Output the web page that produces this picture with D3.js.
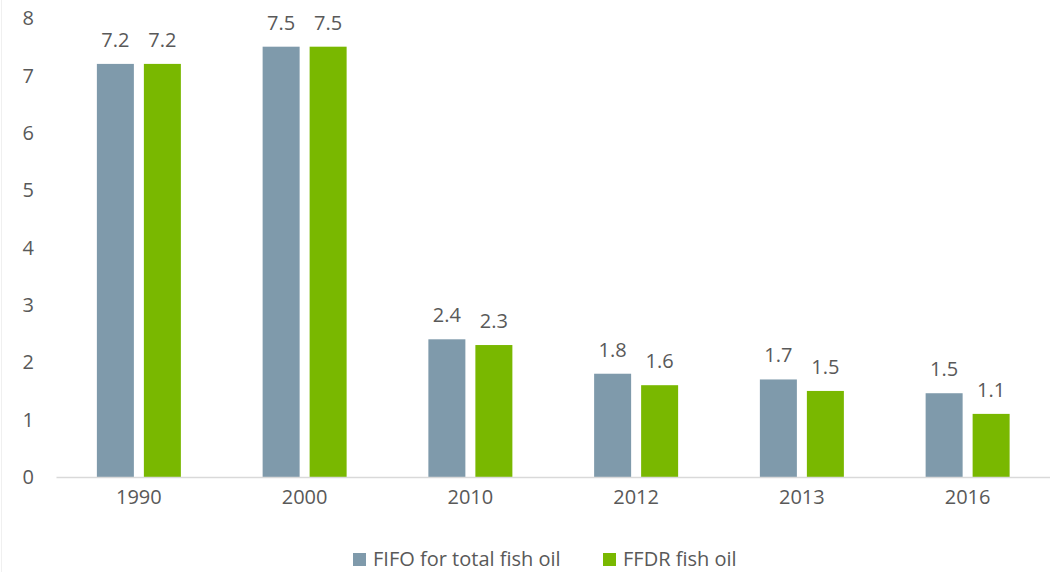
<!DOCTYPE html>
<html>
<head>
<meta charset="utf-8">
<script src="https://cdn.jsdelivr.net/npm/d3@7"></script>
<style>
  body { margin: 0; background: #fff; }
  text { font-family: "Open Sans", sans-serif; fill: #595959; }
</style>
</head>
<body>
<div id="chart"></div>
<script>
// data
var years = ["1990", "2000", "2010", "2012", "2013", "2016"];
var seriesNames = ["FIFO for total fish oil", "FFDR fish oil"];
var fifo = [7.2, 7.5, 2.4, 1.8, 1.7, 1.46];
var ffdr = [7.2, 7.5, 2.3, 1.6, 1.5, 1.1];
var yTicks = [0, 1, 2, 3, 4, 5, 6, 7, 8];

var colors = ["#7f9aab", "#79b800"];

var W = 1053, H = 572;

var svg = d3.select("#chart")
  .append("svg")
    .attr("width", W)
    .attr("height", H);

// faint frame edge on the left
svg.append("line")
  .attr("x1", 1.5).attr("x2", 1.5)
  .attr("y1", 0).attr("y2", H)
  .attr("stroke", "#f0f0f0")
  .attr("stroke-width", 1);

var x0 = d3.scaleBand()
  .domain(years)
  .range([56, 1050.5]);

var x1 = d3.scaleBand()
  .domain(seriesNames)
  .range([-42, 42])
  .paddingInner(10 / 47);

var y = d3.scaleLinear()
  .domain([0, 8])
  .range([477, 18]);

var rows = years.map(function(yr, i) {
  return { year: yr, values: [
    { name: seriesNames[0], value: fifo[i] },
    { name: seriesNames[1], value: ffdr[i] }
  ]};
});

// y tick labels (no axis line)
svg.selectAll(".ytick")
  .data(yTicks)
  .enter()
  .append("text")
    .attr("class", "ytick")
    .attr("x", 34)
    .attr("y", function(d) { return y(d); })
    .attr("dy", "0.36em")
    .attr("text-anchor", "end")
    .style("font-size", "20px")
    .text(function(d) { return d; });

// bars
var groups = svg.selectAll(".grp")
  .data(rows)
  .enter()
  .append("g")
    .attr("class", "grp")
    .attr("transform", function(d) {
      return "translate(" + (x0(d.year) + x0.bandwidth() / 2) + ",0)";
    });

groups.selectAll("rect")
  .data(function(d) { return d.values; })
  .enter()
  .append("rect")
    .attr("x", function(d) { return x1(d.name); })
    .attr("y", function(d) { return y(d.value); })
    .attr("width", x1.bandwidth())
    .attr("height", function(d) { return y(0) - y(d.value); })
    .attr("fill", function(d, i) { return colors[i]; });

groups.selectAll(".lbl")
  .data(function(d) { return d.values; })
  .enter()
  .append("text")
    .attr("class", "lbl")
    .attr("x", function(d) { return x1(d.name) + x1.bandwidth() / 2; })
    .attr("y", function(d) { return y(d.value) - 17; })
    .attr("text-anchor", "middle")
    .style("font-size", "20px")
    .text(function(d) { return d3.format(".1f")(d.value); });

// x axis
var xAxis = svg.append("g")
  .attr("transform", "translate(0," + y(0) + ")")
  .call(d3.axisBottom(x0).tickSize(0).tickPadding(13));
xAxis.select(".domain")
  .attr("stroke", "#d9d9d9")
  .attr("stroke-width", 1.5)
  .attr("d", "M56.5,0.5H1050");
xAxis.selectAll(".tick text")
  .style("font-family", "'Open Sans', sans-serif")
  .style("font-size", "20px")
  .attr("fill", "#595959");

// legend
var legendX = [353, 603];
var legend = svg.selectAll(".leg")
  .data(seriesNames)
  .enter()
  .append("g")
    .attr("class", "leg")
    .attr("transform", function(d, i) { return "translate(" + legendX[i] + ",553)"; });

legend.append("rect")
  .attr("width", 13)
  .attr("height", 13)
  .attr("fill", function(d, i) { return colors[i]; });

legend.append("text")
  .attr("x", 20)
  .attr("y", 13)
  .style("font-size", "20px")
  .text(function(d) { return d; });
</script>
</body>
</html>
